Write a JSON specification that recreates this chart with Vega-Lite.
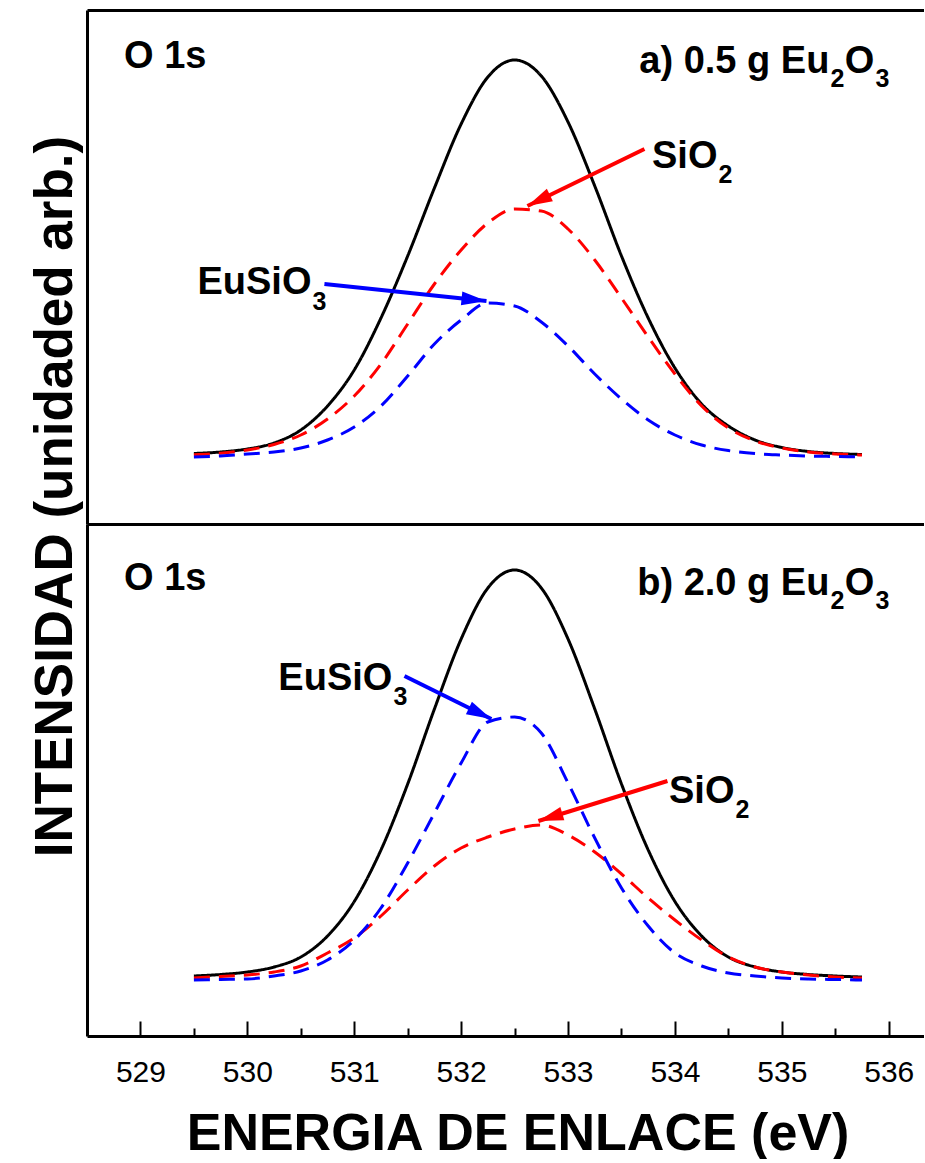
{
  "$schema": "https://vega.github.io/schema/vega-lite/v6.json",
  "background": "white",
  "padding": {"left": 29, "top": 10, "right": 0, "bottom": 0},
  "spacing": 0,
  "bounds": "flush",
  "title": {"text": "INTENSIDAD (unidaded arb.)", "orient": "left", "anchor": "middle", "font": "Liberation Sans", "fontSize": 53, "fontWeight": "bold", "color": "black", "baseline": "alphabetic", "offset": -37.5, "dx": 88},
  "config": {"view": {"stroke": null}, "axis": {"grid": false}, "font": "Liberation Sans"},
  "datasets": {
    "top_curves": [
      {"comp": "Total", "E": 529.5, "h": 2.5}, {"comp": "Total", "E": 529.75, "h": 4}, {"comp": "Total", "E": 530.0, "h": 7},
      {"comp": "Total", "E": 530.25, "h": 13}, {"comp": "Total", "E": 530.5, "h": 26}, {"comp": "Total", "E": 530.75, "h": 50},
      {"comp": "Total", "E": 531.0, "h": 86}, {"comp": "Total", "E": 531.25, "h": 138}, {"comp": "Total", "E": 531.5, "h": 200},
      {"comp": "Total", "E": 531.75, "h": 268}, {"comp": "Total", "E": 532.0, "h": 332}, {"comp": "Total", "E": 532.25, "h": 379},
      {"comp": "Total", "E": 532.5, "h": 396}, {"comp": "Total", "E": 532.75, "h": 380}, {"comp": "Total", "E": 533.0, "h": 334},
      {"comp": "Total", "E": 533.25, "h": 270}, {"comp": "Total", "E": 533.5, "h": 200}, {"comp": "Total", "E": 533.75, "h": 138},
      {"comp": "Total", "E": 534.0, "h": 88}, {"comp": "Total", "E": 534.25, "h": 52}, {"comp": "Total", "E": 534.5, "h": 30},
      {"comp": "Total", "E": 534.75, "h": 16}, {"comp": "Total", "E": 535.0, "h": 8.5}, {"comp": "Total", "E": 535.25, "h": 4.5},
      {"comp": "Total", "E": 535.5, "h": 2.5}, {"comp": "Total", "E": 535.75, "h": 1.5},
      {"comp": "SiO2", "E": 529.5, "h": 1.2}, {"comp": "SiO2", "E": 529.75, "h": 2.8}, {"comp": "SiO2", "E": 530.0, "h": 6},
      {"comp": "SiO2", "E": 530.25, "h": 11.5}, {"comp": "SiO2", "E": 530.5, "h": 21}, {"comp": "SiO2", "E": 530.75, "h": 37},
      {"comp": "SiO2", "E": 531.0, "h": 60}, {"comp": "SiO2", "E": 531.25, "h": 92}, {"comp": "SiO2", "E": 531.5, "h": 132},
      {"comp": "SiO2", "E": 531.75, "h": 172}, {"comp": "SiO2", "E": 532.0, "h": 206}, {"comp": "SiO2", "E": 532.25, "h": 233},
      {"comp": "SiO2", "E": 532.5, "h": 247}, {"comp": "SiO2", "E": 532.75, "h": 245}, {"comp": "SiO2", "E": 533.0, "h": 227},
      {"comp": "SiO2", "E": 533.25, "h": 196}, {"comp": "SiO2", "E": 533.5, "h": 158}, {"comp": "SiO2", "E": 533.75, "h": 119},
      {"comp": "SiO2", "E": 534.0, "h": 82}, {"comp": "SiO2", "E": 534.25, "h": 50}, {"comp": "SiO2", "E": 534.5, "h": 28},
      {"comp": "SiO2", "E": 534.75, "h": 15}, {"comp": "SiO2", "E": 535.0, "h": 8}, {"comp": "SiO2", "E": 535.25, "h": 4},
      {"comp": "SiO2", "E": 535.5, "h": 2}, {"comp": "SiO2", "E": 535.75, "h": 1},
      {"comp": "EuSiO3", "E": 529.5, "h": -1}, {"comp": "EuSiO3", "E": 529.75, "h": 0}, {"comp": "EuSiO3", "E": 530.0, "h": 2},
      {"comp": "EuSiO3", "E": 530.25, "h": 4}, {"comp": "EuSiO3", "E": 530.5, "h": 8}, {"comp": "EuSiO3", "E": 530.75, "h": 16},
      {"comp": "EuSiO3", "E": 531.0, "h": 29}, {"comp": "EuSiO3", "E": 531.25, "h": 50}, {"comp": "EuSiO3", "E": 531.5, "h": 80},
      {"comp": "EuSiO3", "E": 531.75, "h": 112}, {"comp": "EuSiO3", "E": 532.0, "h": 136}, {"comp": "EuSiO3", "E": 532.25, "h": 153},
      {"comp": "EuSiO3", "E": 532.5, "h": 150}, {"comp": "EuSiO3", "E": 532.75, "h": 134}, {"comp": "EuSiO3", "E": 533.0, "h": 110},
      {"comp": "EuSiO3", "E": 533.25, "h": 82}, {"comp": "EuSiO3", "E": 533.5, "h": 57}, {"comp": "EuSiO3", "E": 533.75, "h": 36},
      {"comp": "EuSiO3", "E": 534.0, "h": 21}, {"comp": "EuSiO3", "E": 534.25, "h": 11}, {"comp": "EuSiO3", "E": 534.5, "h": 5.4},
      {"comp": "EuSiO3", "E": 534.75, "h": 2.4}, {"comp": "EuSiO3", "E": 535.0, "h": 1}, {"comp": "EuSiO3", "E": 535.25, "h": 0},
      {"comp": "EuSiO3", "E": 535.5, "h": -0.5}, {"comp": "EuSiO3", "E": 535.75, "h": -1}
    ],
    "bot_curves": [
      {"comp": "Total", "E": 529.5, "h": 2}, {"comp": "Total", "E": 529.75, "h": 3.5}, {"comp": "Total", "E": 530.0, "h": 6},
      {"comp": "Total", "E": 530.25, "h": 11}, {"comp": "Total", "E": 530.5, "h": 21}, {"comp": "Total", "E": 530.75, "h": 42},
      {"comp": "Total", "E": 531.0, "h": 76.5}, {"comp": "Total", "E": 531.25, "h": 128}, {"comp": "Total", "E": 531.5, "h": 194},
      {"comp": "Total", "E": 531.75, "h": 269}, {"comp": "Total", "E": 532.0, "h": 339}, {"comp": "Total", "E": 532.25, "h": 390},
      {"comp": "Total", "E": 532.5, "h": 408}, {"comp": "Total", "E": 532.75, "h": 390}, {"comp": "Total", "E": 533.0, "h": 339},
      {"comp": "Total", "E": 533.25, "h": 269}, {"comp": "Total", "E": 533.5, "h": 194}, {"comp": "Total", "E": 533.75, "h": 128},
      {"comp": "Total", "E": 534.0, "h": 76.5}, {"comp": "Total", "E": 534.25, "h": 42}, {"comp": "Total", "E": 534.5, "h": 21},
      {"comp": "Total", "E": 534.75, "h": 11}, {"comp": "Total", "E": 535.0, "h": 6}, {"comp": "Total", "E": 535.25, "h": 3.5},
      {"comp": "Total", "E": 535.5, "h": 2}, {"comp": "Total", "E": 535.75, "h": 1},
      {"comp": "SiO2", "E": 529.5, "h": 0}, {"comp": "SiO2", "E": 529.75, "h": 1.5}, {"comp": "SiO2", "E": 530.0, "h": 3},
      {"comp": "SiO2", "E": 530.25, "h": 6}, {"comp": "SiO2", "E": 530.5, "h": 12}, {"comp": "SiO2", "E": 530.75, "h": 25},
      {"comp": "SiO2", "E": 531.0, "h": 40}, {"comp": "SiO2", "E": 531.25, "h": 62}, {"comp": "SiO2", "E": 531.5, "h": 88},
      {"comp": "SiO2", "E": 531.75, "h": 112}, {"comp": "SiO2", "E": 532.0, "h": 130}, {"comp": "SiO2", "E": 532.25, "h": 141},
      {"comp": "SiO2", "E": 532.5, "h": 149}, {"comp": "SiO2", "E": 532.75, "h": 153}, {"comp": "SiO2", "E": 533.0, "h": 143},
      {"comp": "SiO2", "E": 533.25, "h": 126}, {"comp": "SiO2", "E": 533.5, "h": 104}, {"comp": "SiO2", "E": 533.75, "h": 80},
      {"comp": "SiO2", "E": 534.0, "h": 58}, {"comp": "SiO2", "E": 534.25, "h": 38}, {"comp": "SiO2", "E": 534.5, "h": 21},
      {"comp": "SiO2", "E": 534.75, "h": 11}, {"comp": "SiO2", "E": 535.0, "h": 6}, {"comp": "SiO2", "E": 535.25, "h": 3},
      {"comp": "SiO2", "E": 535.5, "h": 1}, {"comp": "SiO2", "E": 535.75, "h": 0},
      {"comp": "EuSiO3", "E": 529.5, "h": -2}, {"comp": "EuSiO3", "E": 529.75, "h": -1.5}, {"comp": "EuSiO3", "E": 530.0, "h": -1},
      {"comp": "EuSiO3", "E": 530.25, "h": 2}, {"comp": "EuSiO3", "E": 530.5, "h": 7}, {"comp": "EuSiO3", "E": 530.75, "h": 18},
      {"comp": "EuSiO3", "E": 531.0, "h": 38}, {"comp": "EuSiO3", "E": 531.25, "h": 70}, {"comp": "EuSiO3", "E": 531.5, "h": 115},
      {"comp": "EuSiO3", "E": 531.75, "h": 165}, {"comp": "EuSiO3", "E": 532.0, "h": 215}, {"comp": "EuSiO3", "E": 532.25, "h": 256},
      {"comp": "EuSiO3", "E": 532.5, "h": 261}, {"comp": "EuSiO3", "E": 532.75, "h": 245}, {"comp": "EuSiO3", "E": 533.0, "h": 195},
      {"comp": "EuSiO3", "E": 533.25, "h": 140}, {"comp": "EuSiO3", "E": 533.5, "h": 90}, {"comp": "EuSiO3", "E": 533.75, "h": 52},
      {"comp": "EuSiO3", "E": 534.0, "h": 25}, {"comp": "EuSiO3", "E": 534.25, "h": 12}, {"comp": "EuSiO3", "E": 534.5, "h": 5},
      {"comp": "EuSiO3", "E": 534.75, "h": 2}, {"comp": "EuSiO3", "E": 535.0, "h": 0}, {"comp": "EuSiO3", "E": 535.25, "h": -1},
      {"comp": "EuSiO3", "E": 535.5, "h": -1.5}, {"comp": "EuSiO3", "E": 535.75, "h": -2}
    ],
    "arrows": [
      {"panel": "a", "comp": "SiO2", "E": 533.715, "h": 307, "E2": 532.62, "h2": 250},
      {"panel": "a", "comp": "EuSiO3", "E": 530.721, "h": 172, "E2": 532.237, "h2": 155},
      {"panel": "b", "comp": "EuSiO3", "E": 531.47, "h": 302, "E2": 532.283, "h2": 259},
      {"panel": "b", "comp": "SiO2", "E": 533.93, "h": 197, "E2": 532.723, "h2": 157}
    ],
    "labels": [
      {"panel": "a", "text": "O 1s", "E": 529.617, "h": 388},
      {"panel": "a", "text": "a) 0.5 g Eu", "E": 535.445, "h": 383},
      {"panel": "a", "text": "O", "E": 535.866, "h": 383},
      {"panel": "a", "text": "SiO", "E": 534.398, "h": 288},
      {"panel": "a", "text": "EuSiO", "E": 530.6, "h": 162},
      {"panel": "b", "text": "O 1s", "E": 529.617, "h": 388},
      {"panel": "b", "text": "b) 2.0 g Eu", "E": 535.445, "h": 383},
      {"panel": "b", "text": "O", "E": 535.866, "h": 383},
      {"panel": "b", "text": "SiO", "E": 534.557, "h": 175},
      {"panel": "b", "text": "EuSiO", "E": 531.357, "h": 288}
    ],
    "subs": [
      {"panel": "a", "text": "2", "E": 535.455, "h": 369},
      {"panel": "a", "text": "3", "E": 535.876, "h": 369},
      {"panel": "a", "text": "2", "E": 534.407, "h": 273},
      {"panel": "a", "text": "3", "E": 530.609, "h": 146},
      {"panel": "b", "text": "2", "E": 535.455, "h": 369},
      {"panel": "b", "text": "3", "E": 535.876, "h": 369},
      {"panel": "b", "text": "2", "E": 534.566, "h": 160},
      {"panel": "b", "text": "3", "E": 531.367, "h": 273}
    ]
  },
  "vconcat": [
    {
      "width": 837,
      "height": 514,
      "resolve": {"axis": {"x": "independent"}},
      "layer": [
        {
          "data": {"name": "top_curves"},
          "mark": {"type": "line", "interpolate": "monotone", "strokeWidth": 3},
          "encoding": {
            "x": {"field": "E", "type": "quantitative", "scale": {"domain": [528.5, 536.33], "nice": false, "zero": false},
                  "axis": {"orient": "top", "domain": true, "domainWidth": 3, "domainColor": "black", "ticks": false, "labels": false, "title": null}},
            "y": {"field": "h", "type": "quantitative", "scale": {"domain": [-68, 446], "nice": false, "zero": false},
                  "axis": {"orient": "left", "domain": true, "domainWidth": 3, "domainColor": "black", "ticks": false, "labels": false, "title": null}},
            "color": {"field": "comp", "type": "nominal", "scale": {"domain": ["Total", "SiO2", "EuSiO3"], "range": ["#000000", "#ff0000", "#0000ff"]}, "legend": null},
            "strokeDash": {"field": "comp", "type": "nominal", "scale": {"domain": ["Total", "SiO2", "EuSiO3"], "range": [[1, 0], [16, 9], [16, 9]]}, "legend": null}
          }
        },
        {
          "data": {"name": "arrows"},
          "transform": [{"filter": "datum.panel === 'a'"}],
          "mark": {"type": "rule", "strokeWidth": 4},
          "encoding": {
            "x": {"field": "E", "type": "quantitative",
                  "axis": {"orient": "bottom", "domain": true, "domainWidth": 3, "domainColor": "black", "ticks": false, "labels": false, "title": null}},
            "y": {"field": "h", "type": "quantitative",
                  "axis": {"orient": "left", "domain": true, "domainWidth": 3, "domainColor": "black", "ticks": false, "labels": false, "title": null}},
            "x2": {"field": "E2"},
            "y2": {"field": "h2"},
            "color": {"field": "comp", "type": "nominal", "legend": null}
          }
        },
        {
          "data": {"name": "arrows"},
          "transform": [{"filter": "datum.panel === 'a' && datum.comp === 'SiO2'"}],
          "mark": {"type": "point", "shape": "M0,0L0.55,2L-0.55,2Z", "size": 625, "filled": true, "opacity": 1, "angle": 244},
          "encoding": {
            "x": {"field": "E2", "type": "quantitative", "axis": null},
            "y": {"field": "h2", "type": "quantitative",
                  "axis": {"orient": "left", "domain": true, "domainWidth": 3, "domainColor": "black", "ticks": false, "labels": false, "title": null}},
            "color": {"field": "comp", "type": "nominal", "legend": null}
          }
        },
        {
          "data": {"name": "arrows"},
          "transform": [{"filter": "datum.panel === 'a' && datum.comp === 'EuSiO3'"}],
          "mark": {"type": "point", "shape": "M0,0L0.55,2L-0.55,2Z", "size": 625, "filled": true, "opacity": 1, "angle": 96},
          "encoding": {
            "x": {"field": "E2", "type": "quantitative", "axis": null},
            "y": {"field": "h2", "type": "quantitative",
                  "axis": {"orient": "left", "domain": true, "domainWidth": 3, "domainColor": "black", "ticks": false, "labels": false, "title": null}},
            "color": {"field": "comp", "type": "nominal", "legend": null}
          }
        },
        {
          "data": {"name": "labels"},
          "transform": [{"filter": "datum.panel === 'a'"}],
          "mark": {"type": "text", "align": "right", "baseline": "alphabetic", "fontSize": 38, "fontWeight": "bold", "font": "Liberation Sans", "color": "black"},
          "encoding": {
            "x": {"field": "E", "type": "quantitative", "axis": null},
            "y": {"field": "h", "type": "quantitative",
                  "axis": {"orient": "left", "domain": true, "domainWidth": 3, "domainColor": "black", "ticks": false, "labels": false, "title": null}},
            "text": {"field": "text"}
          }
        },
        {
          "data": {"name": "subs"},
          "transform": [{"filter": "datum.panel === 'a'"}],
          "mark": {"type": "text", "align": "left", "baseline": "alphabetic", "fontSize": 25, "fontWeight": "bold", "font": "Liberation Sans", "color": "black"},
          "encoding": {
            "x": {"field": "E", "type": "quantitative", "axis": null},
            "y": {"field": "h", "type": "quantitative",
                  "axis": {"orient": "left", "domain": true, "domainWidth": 3, "domainColor": "black", "ticks": false, "labels": false, "title": null}},
            "text": {"field": "text"}
          }
        }
      ]
    },
    {
      "width": 837,
      "height": 512,
      "resolve": {"axis": {"x": "independent"}},
      "layer": [
        {
          "data": {"name": "bot_curves"},
          "mark": {"type": "line", "interpolate": "monotone", "strokeWidth": 3},
          "encoding": {
            "x": {"field": "E", "type": "quantitative", "scale": {"domain": [528.5, 536.33], "nice": false, "zero": false},
                  "axis": {"orient": "bottom", "domain": true, "domainWidth": 3, "domainColor": "black", "ticks": false,
                           "values": [529, 530, 531, 532, 533, 534, 535, 536], "labelFlush": false,
                           "labelFont": "Liberation Sans", "labelFontSize": 30, "labelColor": "black", "labelPadding": 21,
                           "title": "ENERGIA DE ENLACE (eV)", "titleFont": "Liberation Sans", "titleFontSize": 52, "titleFontWeight": "bold",
                           "titleColor": "black", "titleX": 430.5, "titleY": 113, "titleBaseline": "alphabetic", "titleAlign": "center"}},
            "y": {"field": "h", "type": "quantitative", "scale": {"domain": [-58, 454], "nice": false, "zero": false},
                  "axis": {"orient": "left", "domain": true, "domainWidth": 3, "domainColor": "black", "ticks": false, "labels": false, "title": null}},
            "color": {"field": "comp", "type": "nominal", "scale": {"domain": ["Total", "SiO2", "EuSiO3"], "range": ["#000000", "#ff0000", "#0000ff"]}, "legend": null},
            "strokeDash": {"field": "comp", "type": "nominal", "scale": {"domain": ["Total", "SiO2", "EuSiO3"], "range": [[1, 0], [16, 9], [16, 9]]}, "legend": null}
          }
        },
        {
          "data": {"name": "arrows"},
          "transform": [{"filter": "datum.panel === 'b'"}],
          "mark": {"type": "rule", "strokeWidth": 4},
          "encoding": {
            "x": {"field": "E", "type": "quantitative",
                  "axis": {"orient": "bottom", "domain": false, "labels": false, "ticks": true, "tickSize": -15, "tickWidth": 2, "tickColor": "black",
                           "values": [529, 530, 531, 532, 533, 534, 535, 536], "title": null}},
            "y": {"field": "h", "type": "quantitative",
                  "axis": {"orient": "left", "domain": true, "domainWidth": 3, "domainColor": "black", "ticks": false, "labels": false, "title": null}},
            "x2": {"field": "E2"},
            "y2": {"field": "h2"},
            "color": {"field": "comp", "type": "nominal", "legend": null}
          }
        },
        {
          "data": {"name": "arrows"},
          "transform": [{"filter": "datum.panel === 'b' && datum.comp === 'SiO2'"}],
          "mark": {"type": "point", "shape": "M0,0L0.55,2L-0.55,2Z", "size": 625, "filled": true, "opacity": 1, "angle": 253},
          "encoding": {
            "x": {"field": "E2", "type": "quantitative",
                  "axis": {"orient": "bottom", "domain": false, "labels": false, "ticks": true, "tickSize": -8, "tickWidth": 2, "tickColor": "black",
                           "values": [529.5, 530.5, 531.5, 532.5, 533.5, 534.5, 535.5], "title": null}},
            "y": {"field": "h2", "type": "quantitative",
                  "axis": {"orient": "left", "domain": true, "domainWidth": 3, "domainColor": "black", "ticks": false, "labels": false, "title": null}},
            "color": {"field": "comp", "type": "nominal", "legend": null}
          }
        },
        {
          "data": {"name": "arrows"},
          "transform": [{"filter": "datum.panel === 'b' && datum.comp === 'EuSiO3'"}],
          "mark": {"type": "point", "shape": "M0,0L0.55,2L-0.55,2Z", "size": 625, "filled": true, "opacity": 1, "angle": 116},
          "encoding": {
            "x": {"field": "E2", "type": "quantitative", "axis": null},
            "y": {"field": "h2", "type": "quantitative",
                  "axis": {"orient": "left", "domain": true, "domainWidth": 3, "domainColor": "black", "ticks": false, "labels": false, "title": null}},
            "color": {"field": "comp", "type": "nominal", "legend": null}
          }
        },
        {
          "data": {"name": "labels"},
          "transform": [{"filter": "datum.panel === 'b'"}],
          "mark": {"type": "text", "align": "right", "baseline": "alphabetic", "fontSize": 38, "fontWeight": "bold", "font": "Liberation Sans", "color": "black"},
          "encoding": {
            "x": {"field": "E", "type": "quantitative", "axis": null},
            "y": {"field": "h", "type": "quantitative",
                  "axis": {"orient": "left", "domain": true, "domainWidth": 3, "domainColor": "black", "ticks": false, "labels": false, "title": null}},
            "text": {"field": "text"}
          }
        },
        {
          "data": {"name": "subs"},
          "transform": [{"filter": "datum.panel === 'b'"}],
          "mark": {"type": "text", "align": "left", "baseline": "alphabetic", "fontSize": 25, "fontWeight": "bold", "font": "Liberation Sans", "color": "black"},
          "encoding": {
            "x": {"field": "E", "type": "quantitative", "axis": null},
            "y": {"field": "h", "type": "quantitative",
                  "axis": {"orient": "left", "domain": true, "domainWidth": 3, "domainColor": "black", "ticks": false, "labels": false, "title": null}},
            "text": {"field": "text"}
          }
        }
      ]
    }
  ]
}
